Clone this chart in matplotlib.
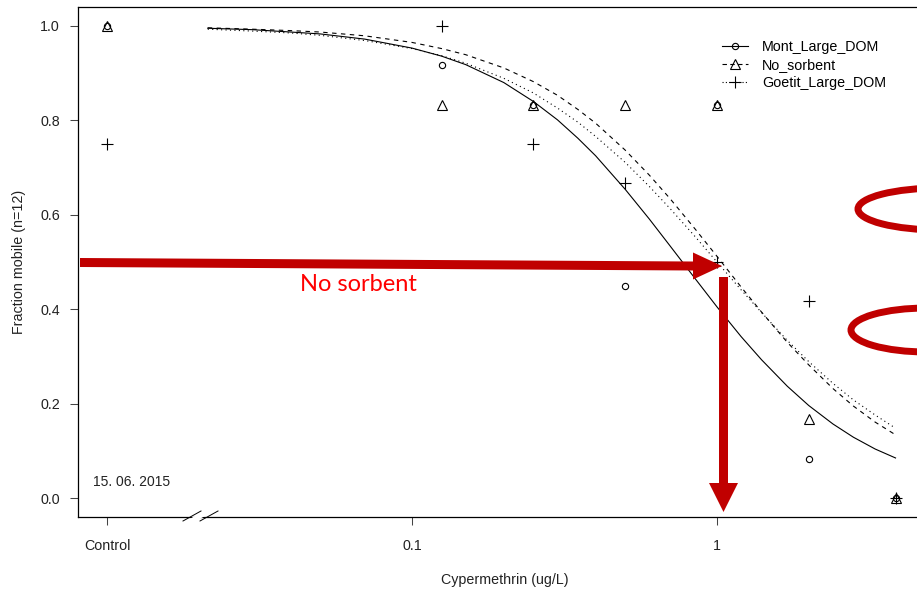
import matplotlib
matplotlib.use('Agg')
import matplotlib.pyplot as plt
from matplotlib.lines import Line2D
from matplotlib.patches import Polygon, Ellipse
from matplotlib.transforms import Affine2D

plt.rcParams['font.family'] = ['Liberation Sans', 'DejaVu Sans']

# observed doses (control drawn at 0.01 on the log axis)
doses = [0.01, 0.125, 0.25, 0.5, 1, 2, 3.85]
mont_obs = [1.0, 0.917, 0.833, 0.45, 0.833, 0.083, 0.0]
nosorb_obs = [1.0, 0.833, 0.833, 0.833, 0.833, 0.167, 0.0]
goetit_obs = [0.75, 1.0, 0.75, 0.667, 0.5, 0.417, 0.0]

# fitted curves
curve_x = [0.0214, 0.03, 0.04, 0.05, 0.07, 0.1, 0.125, 0.15, 0.2, 0.25, 0.3, 0.35, 0.4, 0.5,
           0.6, 0.7, 0.85, 1.0, 1.2, 1.4, 1.7, 2.0, 2.4, 2.8, 3.3, 3.85]
mont_fit = [0.995, 0.992, 0.987, 0.983, 0.972, 0.953, 0.936, 0.918, 0.880, 0.840, 0.801, 0.762,
            0.725, 0.654, 0.591, 0.535, 0.464, 0.405, 0.342, 0.293, 0.237, 0.196, 0.157, 0.129,
            0.104, 0.085]
nosorb_fit = [0.996, 0.993, 0.990, 0.987, 0.979, 0.965, 0.952, 0.939, 0.911, 0.882, 0.853, 0.823,
              0.794, 0.737, 0.684, 0.635, 0.569, 0.512, 0.447, 0.394, 0.330, 0.282, 0.232, 0.195,
              0.161, 0.134]
goetit_fit = [0.993, 0.989, 0.985, 0.980, 0.969, 0.952, 0.937, 0.921, 0.889, 0.858, 0.826, 0.796,
              0.766, 0.711, 0.660, 0.614, 0.553, 0.500, 0.441, 0.393, 0.334, 0.289, 0.243, 0.208,
              0.176, 0.148]

x_ticks = [0.01, 0.1, 1]
x_tick_labels = ['Control', '0.1', '1']
y_ticks = [0.0, 0.2, 0.4, 0.6, 0.8, 1.0]

W, H = 917, 592
fig = plt.figure(figsize=(W / 100, H / 100), dpi=100)
# pixel coordinates (origin top-left) for overlays
px = Affine2D().scale(1 / 100, -1 / 100).translate(0, H / 100) + fig.dpi_scale_trans

ax = fig.add_axes([78 / W, (H - 517) / H, 854 / W, 510 / H])
ax.set_xscale('log')
ax.set_xlim(10 ** -2.095, 10 ** 0.705)
ax.set_ylim(-0.04, 1.04)

ax.plot(curve_x, mont_fit, color='k', lw=0.8, ls='-')
ax.plot(curve_x, nosorb_fit, color='k', lw=0.8, ls=(0, (4, 4)))
ax.plot(curve_x, goetit_fit, color='k', lw=0.8, ls=(0, (1, 3)))

ax.plot(doses, mont_obs, ls='none', marker='o', ms=4.5, mfc='none', mec='k', mew=0.8)
ax.plot(doses, nosorb_obs, ls='none', marker='^', ms=7, mfc='none', mec='k', mew=0.8)
ax.plot(doses, goetit_obs, ls='none', marker='+', ms=8.5, mec='k', mew=0.8)

ax.set_xticks(x_ticks)
ax.set_xticklabels(x_tick_labels)
ax.xaxis.set_minor_locator(matplotlib.ticker.NullLocator())
ax.set_yticks(y_ticks)
ax.set_yticklabels(['{:.1f}'.format(v) for v in y_ticks])
ax.tick_params(axis='both', length=6, width=0.75, colors='#444444', labelcolor='#222222', labelsize=10.3)
ax.tick_params(axis='y', pad=7)
ax.tick_params(axis='x', pad=10)
for side in ['left', 'bottom', 'top', 'right']:
    ax.spines[side].set_linewidth(0.9)
    ax.spines[side].set_color('k')

ax.set_xlabel('Cypermethrin (ug/L)', fontsize=10.3, color='#222222')
ax.set_ylabel('Fraction mobile (n=12)', fontsize=10.3, color='#222222')
ax.xaxis.set_label_coords(0.5, (517 - 573) / 510)
ax.yaxis.set_label_coords((26 - 78) / 854, 0.5)

handles = [
    Line2D([], [], color='k', lw=0.8, ls='-', marker='o', ms=4.5, mfc='none', mew=0.8),
    Line2D([], [], color='k', lw=0.8, ls=(0, (4, 3)), marker='^', ms=7, mfc='none', mew=0.8),
    Line2D([], [], color='k', lw=0.8, ls=(0, (1, 2)), marker='+', ms=8.5, mew=0.8),
]
fig.legend(handles, ['Mont_Large_DOM', 'No_sorbent', 'Goetit_Large_DOM'], loc='upper left',
           bbox_to_anchor=(722 / W, 1 - 40 / H), frameon=False, fontsize=10.3, borderpad=0,
           borderaxespad=0, handlelength=1.8, handletextpad=1.0, labelspacing=0.28, numpoints=1)

# axis break on the x axis
fig.add_artist(Polygon([(186, 521), (204, 511), (214, 511), (196, 521)], closed=True,
                       transform=px, facecolor='white', edgecolor='none'))
fig.add_artist(Line2D([183, 201], [521, 511], transform=px, color='k', lw=0.7))
fig.add_artist(Line2D([200, 218], [521, 511], transform=px, color='k', lw=0.7))

fig.text(93, 482, '15. 06. 2015', transform=px, fontsize=10, color='#222222', va='center')

# red annotations
dark_red = '#C00000'
fig.add_artist(Polygon([(80, 258), (693, 261.5), (693, 252.5), (722, 266), (693, 279.5),
                        (693, 270.5), (80, 267)], closed=True, transform=px,
                       facecolor=dark_red, edgecolor='none'))
fig.add_artist(Polygon([(719, 277), (728, 277), (728, 483), (738, 483), (723.5, 512),
                        (709, 483), (719, 483)], closed=True, transform=px,
                       facecolor=dark_red, edgecolor='none'))
fig.text(300, 291, 'No sorbent', transform=px, fontsize=17, color='#FF0000',
         family=['Lato', 'DejaVu Sans'], va='baseline')
fig.add_artist(Ellipse((940, 209), 164, 42, transform=px, facecolor='none',
                       edgecolor=dark_red, lw=5))
fig.add_artist(Ellipse((927, 330), 152, 44, transform=px, facecolor='none',
                       edgecolor=dark_red, lw=5))

fig.savefig('out.png', dpi=100)
